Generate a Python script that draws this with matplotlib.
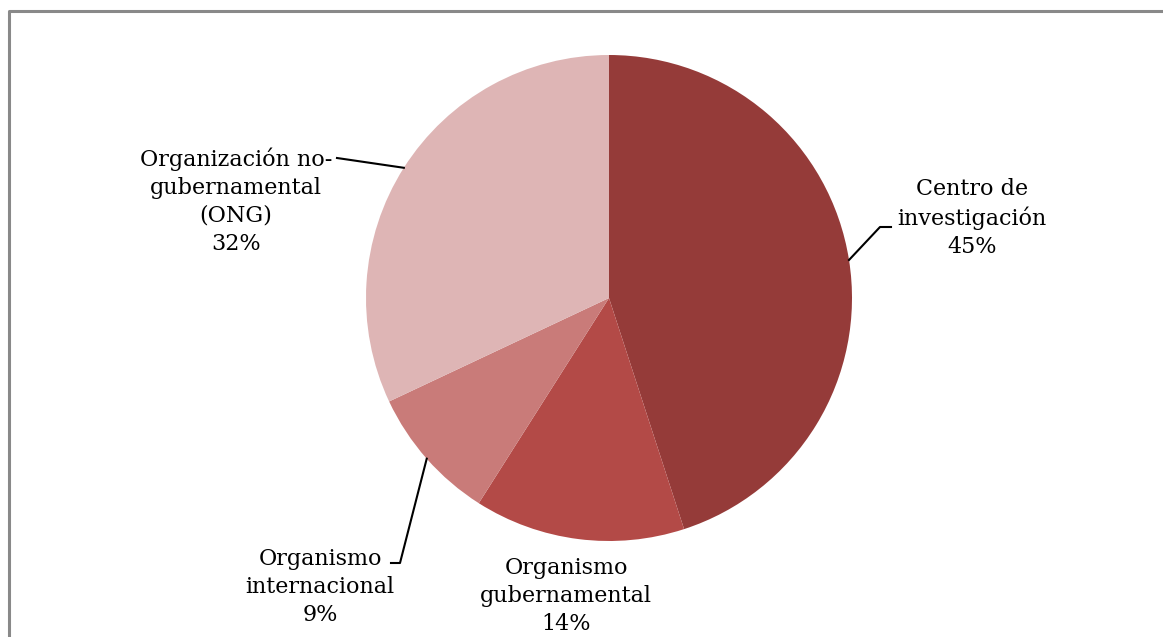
import matplotlib.pyplot as plt
import numpy as np

categories = ['Centro de\ninvestigación', 'Organismo\ngubernamental',
              'Organismo\ninternacional', 'Organización no-\ngubernamental\n(ONG)']
values = [45, 14, 9, 32]
colors = ['#953B39', '#B34A47', '#C97B79', '#DEB5B5']

W, H = 1163, 637
fig = plt.figure(figsize=(W / 100, H / 100), dpi=100)
ax = fig.add_axes([0, 0, 1, 1])

cx, cy, r = 609, H - 298, 243
wedges, _ = ax.pie(values, colors=colors, startangle=90, counterclock=False,
                   center=(cx, cy), radius=r, frame=True,
                   wedgeprops=dict(linewidth=0))
ax.set_xlim(0, W)
ax.set_ylim(0, H)
ax.axis('off')

# label text centres and leader-line elbows (pixel coords, y from top)
label_pos = [(972, 218), (566, 596), (320, 587), (236, 201)]
elbows = [[(880, 227), (891, 227)], None, [(400, 563), (391, 563)],
          [(337, 158)]]

font = dict(family='DejaVu Serif', size=16)
for w, v, cat, (lx, ly), elb in zip(wedges, values, categories, label_pos, elbows):
    ang = np.deg2rad((w.theta1 + w.theta2) / 2)
    ax.text(lx, H - ly, f'{cat}\n{v}%', ha='center', va='center',
            linespacing=1.35, color='black', **font)
    if elb is not None:
        px, py = cx + r * np.cos(ang), cy + r * np.sin(ang)
        xs = [px] + [e[0] for e in elb]
        ys = [py] + [H - e[1] for e in elb]
        ax.plot(xs, ys, color='black', lw=1.5)

# outer border of chart area
ax.plot([9, 9, W + 5], [-5, H - 11, H - 11], color='#898989', lw=2.2,
        clip_on=False)

fig.savefig('out.png', dpi=100)
